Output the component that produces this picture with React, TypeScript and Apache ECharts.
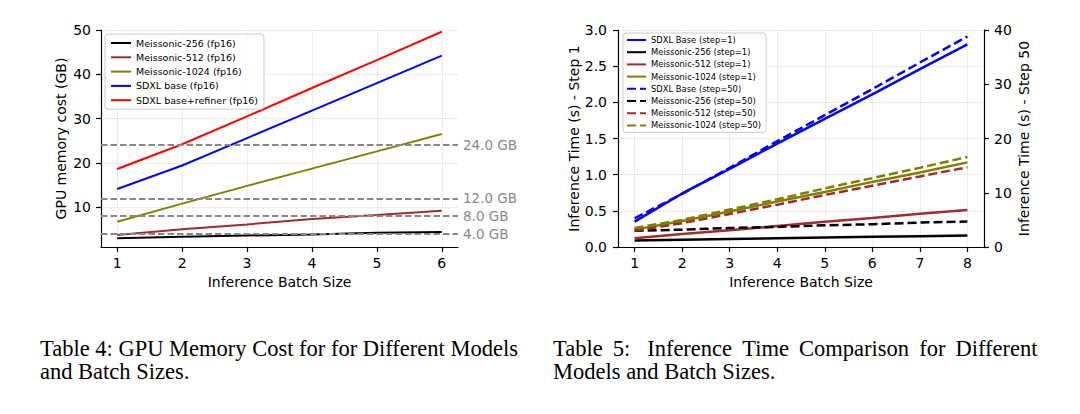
import { useEffect, useRef } from "react";
import * as echarts from "echarts";

// ---------- Data: GPU memory (Table 4) ----------
const memBatch = [1, 2, 3, 4, 5, 6];
const memM256 = [3.0, 3.3, 3.6, 3.8, 4.2, 4.4];
const memM512 = [3.7, 5.0, 6.1, 7.3, 8.2, 9.2];
const memM1024 = [6.7, 10.8, 14.8, 18.7, 22.6, 26.5];
const memSdxl = [14.1, 19.4, 25.6, 31.8, 38.0, 44.2];
const memSdxlRefiner = [18.6, 24.2, 30.5, 36.9, 43.2, 49.6];
const memThresholds = [4, 8, 12, 24];
const memYTicks = [10, 20, 30, 40, 50];

// ---------- Data: Inference time (Table 5) ----------
const timeBatch = [1, 2, 3, 4, 5, 6, 7, 8];
const tSdxlStep1 = [0.35, 0.74, 1.08, 1.43, 1.77, 2.11, 2.46, 2.8];
const tM256Step1 = [0.09, 0.1, 0.11, 0.12, 0.13, 0.14, 0.15, 0.16];
const tM512Step1 = [0.12, 0.18, 0.23, 0.29, 0.35, 0.4, 0.46, 0.51];
const tM1024Step1 = [0.24, 0.36, 0.49, 0.63, 0.76, 0.9, 1.03, 1.17];
const tSdxlStep50 = [5.3, 9.8, 14.6, 19.5, 24.3, 29.1, 34.0, 38.8];
const tM256Step50 = [3.0, 3.2, 3.5, 3.7, 4.0, 4.2, 4.5, 4.7];
const tM512Step50 = [3.0, 4.4, 6.1, 7.8, 9.6, 11.3, 13.0, 14.7];
const tM1024Step50 = [3.5, 5.0, 6.9, 8.8, 10.8, 12.7, 14.6, 16.6];

// ---------- Captions ----------
const caption4 = ["Table 4: GPU Memory Cost for for Different Models", "and Batch Sizes."];
const caption5 = ["Table 5:  Inference Time Comparison for Different", "Models and Batch Sizes."];

const SANS = "DejaVu Sans";
const SERIF = "Liberation Serif";
const CAP_SIZE = 22.5;

// widen inter-word spaces with thin / en spaces (justified look), kept as a single text
const justify = (s: string) => s.replace(/ +/g, (m) => (m.length > 1 ? " \u2002" : " \u2009"));

function captionLine(text: string, x: number, y: number) {
  return {
    type: "text",
    x,
    y,
    silent: true,
    style: {
      text,
      fontFamily: SERIF,
      fontSize: CAP_SIZE,
      lineHeight: CAP_SIZE,
      fill: "#000",
      verticalAlign: "middle",
      align: "left",
    },
  };
}

const pairs = (xs: number[], ys: number[]) => xs.map((x, i) => [x, ys[i]]);

export default function App() {
  const ref = useRef<HTMLDivElement>(null);

  useEffect(() => {
    if (!ref.current) return;
    const chart = echarts.init(ref.current, null, { renderer: "svg" });

    const axisText = { color: "#000", fontSize: 14, fontFamily: SANS };
    const gridLine = { show: true, lineStyle: { color: "#d0d0d0", width: 0.8, type: "dotted" as const } };
    const spine = { show: true, onZero: false, lineStyle: { color: "#000", width: 1.2 } };
    const tick = { show: true, length: 5, inside: false, lineStyle: { color: "#000", width: 1.2 } };

    const memLine = (name: string, data: number[], color: string, extra: any = {}) => ({
      name,
      type: "line",
      xAxisIndex: 0,
      yAxisIndex: 0,
      data: pairs(memBatch, data),
      showSymbol: false,
      symbol: "none",
      lineStyle: { color, width: 2 },
      itemStyle: { color },
      ...extra,
    });

    const timeLine = (name: string, data: number[], color: string, yAxisIndex: number, dashed: boolean) => ({
      name,
      type: "line",
      xAxisIndex: 1,
      yAxisIndex,
      data: pairs(timeBatch, data),
      showSymbol: false,
      symbol: "none",
      lineStyle: { color, width: 2.5, type: dashed ? [9, 4] : "solid" },
      itemStyle: { color },
    });

    const legendBase = {
      orient: "vertical",
      backgroundColor: "rgba(255,255,255,0.85)",
      borderColor: "#cccccc",
      borderWidth: 1,
      borderRadius: 3,
      selectedMode: false,
      itemStyle: { opacity: 0 },
    };

    chart.setOption({
      animation: false,
      backgroundColor: "#fff",
      grid: [
        { left: 101, top: 30, width: 357, height: 217 },
        { left: 618, top: 30, width: 366, height: 217 },
      ],
      xAxis: [
        {
          type: "value",
          gridIndex: 0,
          min: 0.75,
          max: 6.25,
          name: "Inference Batch Size",
          nameLocation: "middle",
          nameGap: 27,
          nameTextStyle: axisText,
          axisLine: spine,
          axisTick: { ...tick, customValues: memBatch },
          axisLabel: { ...axisText, margin: 9, customValues: memBatch },
          splitLine: gridLine,
        },
        {
          type: "value",
          gridIndex: 1,
          min: 0.65,
          max: 8.35,
          name: "Inference Batch Size",
          nameLocation: "middle",
          nameGap: 27,
          nameTextStyle: axisText,
          axisLine: spine,
          axisTick: { ...tick, customValues: timeBatch },
          axisLabel: { ...axisText, margin: 9, customValues: timeBatch },
          splitLine: gridLine,
        },
      ],
      yAxis: [
        {
          type: "value",
          gridIndex: 0,
          min: 1,
          max: 50,
          name: "GPU memory cost (GB)",
          nameLocation: "middle",
          nameGap: 33,
          nameTextStyle: axisText,
          axisLine: spine,
          axisTick: { ...tick, customValues: memYTicks },
          axisLabel: { ...axisText, margin: 10, customValues: memYTicks },
          splitLine: gridLine,
        },
        {
          type: "value",
          gridIndex: 1,
          min: 0,
          max: 3,
          interval: 0.5,
          position: "left",
          name: "Inference Time (s) - Step 1",
          nameLocation: "middle",
          nameGap: 36,
          nameTextStyle: axisText,
          axisLine: spine,
          axisTick: tick,
          axisLabel: { ...axisText, margin: 11, formatter: (v: number) => v.toFixed(1) },
          splitLine: gridLine,
        },
        {
          type: "value",
          gridIndex: 1,
          min: 0,
          max: 40,
          interval: 10,
          position: "right",
          name: "Inference Time (s) - Step 50",
          nameLocation: "middle",
          nameGap: 33,
          nameRotate: 90,
          nameTextStyle: axisText,
          axisLine: spine,
          axisTick: tick,
          axisLabel: { ...axisText, margin: 10 },
          splitLine: { show: false },
        },
      ],
      legend: [
        {
          ...legendBase,
          left: 105,
          top: 34,
          padding: [4, 6, 4, 5],
          itemWidth: 20,
          itemHeight: 10,
          itemGap: 4.3,
          textStyle: { fontFamily: SANS, fontSize: 9.5, color: "#000" },
          data: [
            "Meissonic-256 (fp16)",
            "Meissonic-512 (fp16)",
            "Meissonic-1024 (fp16)",
            "SDXL base (fp16)",
            "SDXL base+refiner (fp16)",
          ],
        },
        {
          ...legendBase,
          left: 623,
          top: 33,
          padding: [3, 5, 3, 3],
          itemWidth: 19,
          itemHeight: 9,
          itemGap: 4.2,
          textStyle: { fontFamily: SANS, fontSize: 8.4, color: "#000" },
          data: [
            "SDXL Base (step=1)",
            "Meissonic-256 (step=1)",
            "Meissonic-512 (step=1)",
            "Meissonic-1024 (step=1)",
            "SDXL Base (step=50)",
            "Meissonic-256 (step=50)",
            "Meissonic-512 (step=50)",
            "Meissonic-1024 (step=50)",
          ],
        },
      ],
      series: [
        memLine("Meissonic-256 (fp16)", memM256, "#000000", {
          markLine: {
            silent: true,
            symbol: ["none", "none"],
            lineStyle: { color: "#888888", width: 1.8, type: [6.5, 3] },
            label: {
              show: true,
              position: "end",
              distance: 5,
              color: "#888888",
              fontSize: 13.5,
              fontFamily: SANS,
              formatter: (p: any) => `${Number(p.value).toFixed(1)} GB`,
            },
            data: memThresholds.map((v) => ({ yAxis: v })),
          },
        }),
        memLine("Meissonic-512 (fp16)", memM512, "#a52a2a"),
        memLine("Meissonic-1024 (fp16)", memM1024, "#808000"),
        memLine("SDXL base (fp16)", memSdxl, "#0000ff"),
        memLine("SDXL base+refiner (fp16)", memSdxlRefiner, "#ff0000"),

        timeLine("SDXL Base (step=1)", tSdxlStep1, "#0000ff", 1, false),
        timeLine("Meissonic-256 (step=1)", tM256Step1, "#000000", 1, false),
        timeLine("Meissonic-512 (step=1)", tM512Step1, "#a52a2a", 1, false),
        timeLine("Meissonic-1024 (step=1)", tM1024Step1, "#808000", 1, false),
        timeLine("SDXL Base (step=50)", tSdxlStep50, "#0000ff", 2, true),
        timeLine("Meissonic-256 (step=50)", tM256Step50, "#000000", 2, true),
        timeLine("Meissonic-512 (step=50)", tM512Step50, "#a52a2a", 2, true),
        timeLine("Meissonic-1024 (step=50)", tM1024Step50, "#808000", 2, true),
      ],
      graphic: [
        captionLine(caption4[0], 40, 348.5),
        captionLine(caption4[1], 40, 371.5),
        captionLine(justify(caption5[0]), 553, 348.5),
        captionLine(caption5[1], 553, 371.5),
      ],
    });

    return () => chart.dispose();
  }, []);

  return <div ref={ref} style={{ position: "absolute", left: 0, top: 0, width: 1080, height: 414 }} />;
}
